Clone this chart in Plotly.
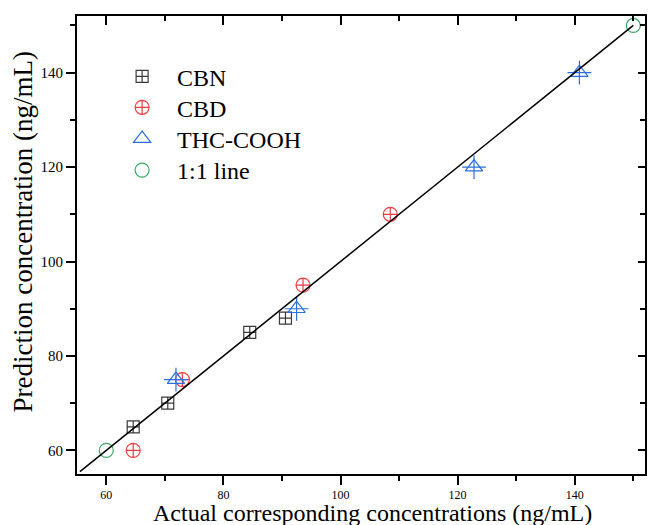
import plotly.graph_objects as go

# Data
cbn_x = [64.6, 70.5, 84.5, 90.6]
cbn_y = [65, 70, 85, 88]
cbd_x = [64.6, 73.0, 93.6, 108.5]
cbd_y = [60, 75, 95, 110]
thc_x = [71.9, 92.5, 122.8, 140.8]
thc_y = [75, 90, 120, 140]
ref_x = [60, 150]
ref_y = [60, 150]
line_x = [55.5, 150]
line_y = [55.5, 150]

x_ticks = [60, 80, 100, 120, 140]
y_ticks = [60, 80, 100, 120, 140]
x_range = [55, 152]
y_range = [55, 152]

x_title = "Actual corresponding concentrations (ng/mL)"
y_title = "Prediction concentration (ng/mL)"

FONT = "Liberation Serif, Times New Roman, serif"
c_cbn = "#3a3a3a"
c_cbd = "#ee3b3f"
c_thc = "#2a6fe0"
c_ref = "#3aa864"

TOP, H, LEFT, W = 16, 458, 77, 568

fig = go.Figure()
fig.add_trace(go.Scatter(x=cbn_x, y=cbn_y, mode="markers", name="CBN", legend="legend",
                         marker=dict(symbol="square-cross-open", size=12,
                                     color=c_cbn, line=dict(width=1.2, color=c_cbn))))
fig.add_trace(go.Scatter(x=cbd_x, y=cbd_y, mode="markers", name="CBD", legend="legend2",
                         marker=dict(symbol="circle-cross-open", size=14,
                                     color=c_cbd, line=dict(width=1.2, color=c_cbd))))
fig.add_trace(go.Scatter(x=thc_x, y=thc_y, mode="markers", name="THC-COOH", legend="legend3",
                         marker=dict(symbol="triangle-up-open", size=15,
                                     color=c_thc, line=dict(width=1.2, color=c_thc))))
fig.add_trace(go.Scatter(x=thc_x, y=thc_y, mode="markers", showlegend=False,
                         marker=dict(symbol="cross-thin-open", size=17,
                                     color=c_thc, line=dict(width=1.2, color=c_thc))))
fig.add_trace(go.Scatter(x=ref_x, y=ref_y, mode="markers", name="1:1 line", legend="legend4",
                         marker=dict(symbol="circle-open", size=14,
                                     color=c_ref, line=dict(width=1.2, color=c_ref))))
fig.add_trace(go.Scatter(x=line_x, y=line_y, mode="lines", showlegend=False,
                         xaxis="x2", yaxis="y2",
                         line=dict(color="black", width=1.5)))

axis_common = dict(showgrid=False, zeroline=False, showline=True, linecolor="black",
                   linewidth=2, tickcolor="black", tickwidth=1.5)


def leg(row_px):
    return dict(x=0.053, y=1 - (row_px - TOP) / H, xanchor="left", yanchor="middle",
                bgcolor="rgba(0,0,0,0)", itemwidth=60,
                font=dict(family=FONT, size=24, color="black"))


fig.update_layout(
    width=648, height=525,
    margin=dict(l=LEFT, r=3, t=TOP, b=51),
    paper_bgcolor="white", plot_bgcolor="white",
    font=dict(family=FONT, color="black"),
    showlegend=True,
    legend=leg(76.7), legend2=leg(107.7), legend3=leg(139), legend4=leg(170.5),
    xaxis=dict(range=x_range, tickvals=x_ticks, ticks="outside", ticklen=9,
               minor=dict(dtick=10, tick0=50, ticks="outside", ticklen=5,
                          tickcolor="black", tickwidth=1.5),
               tickfont=dict(family=FONT, size=12), ticklabelstandoff=0,
               **axis_common),
    yaxis=dict(range=y_range, tickvals=y_ticks, ticks="outside", ticklen=9,
               minor=dict(dtick=10, tick0=50, ticks="outside", ticklen=5,
                          tickcolor="black", tickwidth=1.5),
               tickfont=dict(family=FONT, size=15),
               **axis_common),
    xaxis2=dict(range=x_range, overlaying="x", side="top", tickvals=x_ticks,
                ticks="inside", ticklen=9, showticklabels=False,
                minor=dict(dtick=10, tick0=50, ticks="inside", ticklen=5,
                           tickcolor="black", tickwidth=1.5),
                **axis_common),
    yaxis2=dict(range=y_range, overlaying="y", side="right", tickvals=y_ticks,
                ticks="inside", ticklen=7, showticklabels=False,
                minor=dict(dtick=10, tick0=50, ticks="inside", ticklen=5,
                           tickcolor="black", tickwidth=1.5),
                **axis_common),
    annotations=[
        dict(text=x_title, xref="paper", yref="paper",
             x=(372 - LEFT) / W, y=1 - (513 - TOP) / H,
             xanchor="center", yanchor="middle", showarrow=False,
             font=dict(family=FONT, size=24, color="black")),
        dict(text=y_title, xref="paper", yref="paper", textangle=-90,
             x=(23 - LEFT) / W, y=1 - (232.5 - TOP) / H,
             xanchor="center", yanchor="middle", showarrow=False,
             font=dict(family=FONT, size=27, color="black")),
    ],
)

fig.write_html("out.html")
